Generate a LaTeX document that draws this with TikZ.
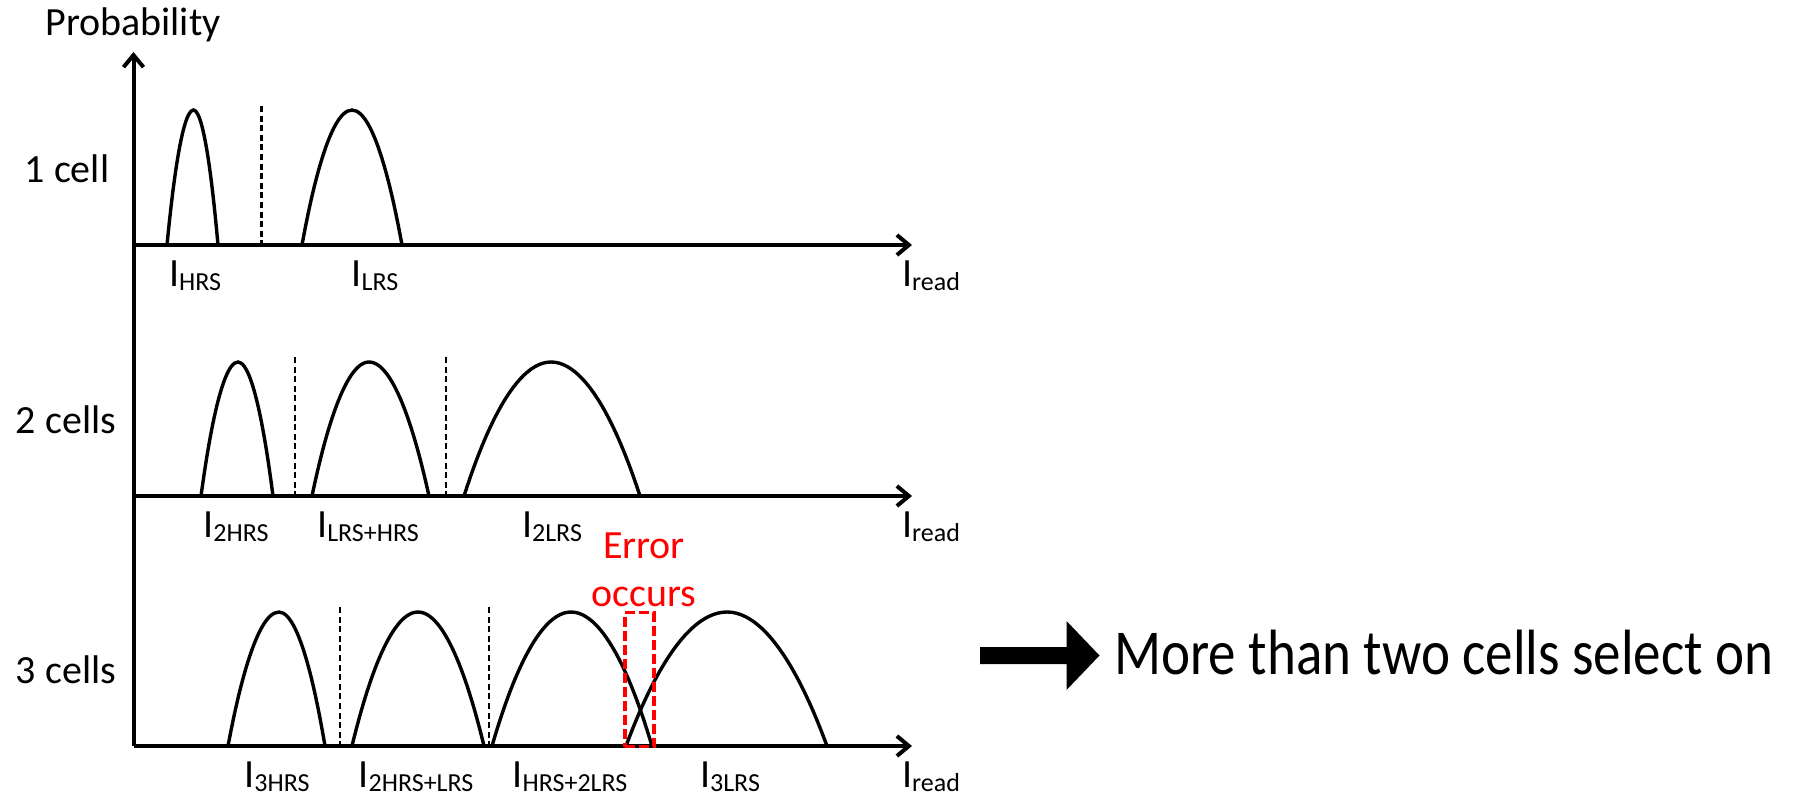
\documentclass[tikz,border=0pt]{standalone}
\usepackage{fontspec}
\setmainfont{Carlito}
\usepackage{graphicx}
\usepackage{tikz}
\usetikzlibrary{arrows.meta,positioning}

% current with a lowered subscript
\newcommand{\cur}[1]{I\raisebox{-2pt}{\fontsize{13}{13}\selectfont #1}}

\begin{document}
\begin{tikzpicture}[x=0.5pt,y=-0.5pt,
  every node/.style={font=\fontsize{20}{24}\selectfont,inner sep=0pt},
  axis/.style={line width=2pt,-{Straight Barb[length=6pt,width=10pt]}},
  peak/.style={line width=1.7pt},
  thr/.style={line width=1.4pt,dash pattern=on 3pt off 1.8pt},
  lab/.style={anchor=base}]
  \useasboundingbox (0,0) rectangle (1795,798);

  % axes
  \coordinate (ytop) at (133.5,52);
  \foreach \p/\y in {1/245,2/496,3/746}{
    \coordinate (o\p) at (133.5,\y);
    \coordinate (x\p) at (912,\y);
    \draw[axis] (o\p) -- (x\p);
    \node[lab] (read\p) at (931,\y+41) {\cur{read}};
  }
  \draw[axis] (o3) -- (ytop);
  \node[lab] (ylab) at (133,35) {Probability};
  \node[lab] (c1) at (67,182) {1 cell};
  \node[lab] (c2) at (66,433) {2 cells};
  \node[lab] (c3) at (66,683) {3 cells};

  % 1 cell
  \draw[peak] (167,245) parabola bend (193.5,110) (218,245);
  \draw[thr] (261.5,106) -- (261.5,245);
  \draw[peak] (302,245) parabola bend (352,110) (402,245);
  \node[lab] (hrs) at (195,286) {\cur{HRS}};
  \node[lab] (lrs) at (375,286) {\cur{LRS}};

  % 2 cells
  \draw[peak] (201,496) parabola bend (238,362) (273,496);
  \draw[thr] (295,357) -- (295,496);
  \draw[peak] (312,496) parabola bend (369,362) (429,496);
  \draw[thr] (446,357) -- (446,496);
  \draw[peak] (464,496) parabola bend (551,362) (640,496);
  \node[lab] (hh) at (236,537) {\cur{2HRS}};
  \node[lab] (lh) at (368,537) {\cur{LRS+HRS}};
  \node[lab] (ll) at (552,537) {\cur{2LRS}};

  % 3 cells
  \draw[peak] (228,746) parabola bend (279,612) (325,746);
  \draw[thr] (340,607) -- (340,746);
  \draw[peak] (352,746) parabola bend (418,612) (484,746);
  \draw[thr] (489,607) -- (489,746);
  \draw[peak] (492,746) parabola bend (571,612) (652,746);
  \draw[peak] (626,746) parabola bend (727,612) (827,746);
  \node[lab] (hhh) at (277,787) {\cur{3HRS}};
  \node[lab] (hhl) at (416,787) {\cur{2HRS+LRS}};
  \node[lab] (hll) at (570,787) {\cur{HRS+2LRS}};
  \node[lab] (lll) at (730,787) {\cur{3LRS}};

  % overlap
  \node[draw=red,line width=1.6pt,dash pattern=on 5pt off 2pt,
    minimum width=14.5pt,minimum height=67pt] (err) at (639.5,679.5) {};
  \node[text=red,align=center] (errtxt) at (644,570) {Error\\occurs};

  % conclusion
  \fill (980,647) -- (1066.5,647) -- (1066.5,621) -- (1099.5,655.5)
    -- (1066.5,690) -- (1066.5,664) -- (980,664) -- cycle;
  \node[anchor=base west,font=\fontsize{32}{38}\selectfont] (msg) at (1114,674)
    {\scalebox{0.86}[1]{More than two cells select on}};
\end{tikzpicture}
\end{document}
